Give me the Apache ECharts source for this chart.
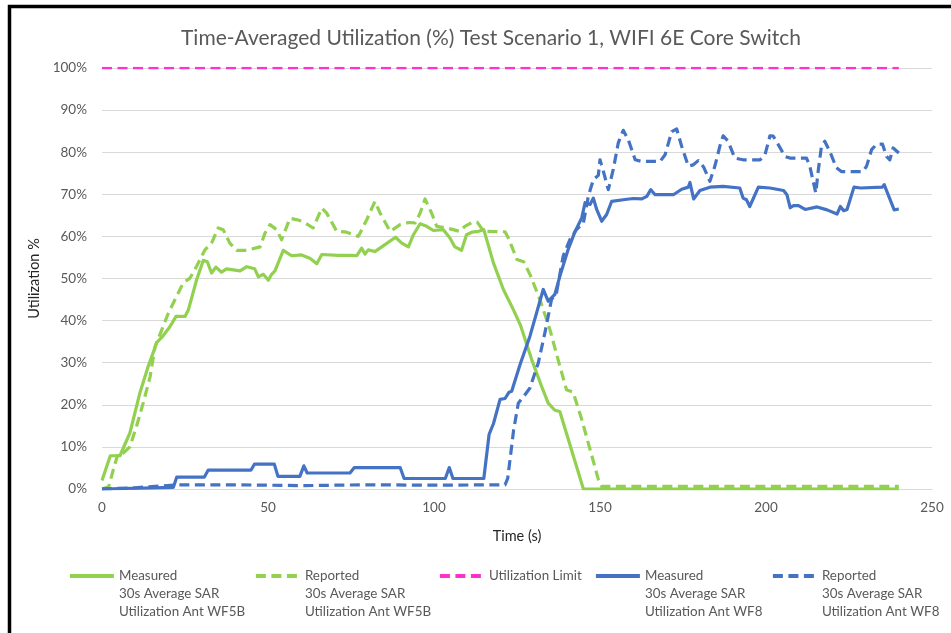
<!DOCTYPE html>
<html>
<head>
<meta charset="utf-8">
<script src="https://cdn.jsdelivr.net/npm/echarts@6/dist/echarts.min.js"></script>
<style>html,body{margin:0;padding:0;background:#fff}#c{width:951px;height:633px}</style>
</head>
<body>
<div id="c"></div>
<script>
// ---- Data (time in s, utilization in %) ----
const seriesNames = [
  "Measured\n30s Average SAR\nUtilization Ant WF5B",
  "Reported\n30s Average SAR\nUtilization Ant WF5B",
  "Utilization Limit",
  "Measured\n30s Average SAR\nUtilization Ant WF8",
  "Reported\n30s Average SAR\nUtilization Ant WF8"
];
const xTicks = [0, 50, 100, 150, 200, 250];
const yTicks = [0, 10, 20, 30, 40, 50, 60, 70, 80, 90, 100];

const wf5bMeasuredT = [0,2.5,5.4,8.4,11.4,13.9,16.5,18,20.5,22.3,25,26,28.5,30.5,31.7,33,34.3,36,37.5,41.6,43.6,46,47.1,48.6,50.1,51.1,52.1,54.6,57.1,60.1,62.6,64.7,66.2,71.2,75.2,76.7,78.2,79.2,80.2,82.2,84.8,88.4,90.3,92.3,93.8,95.8,97.8,99.8,102.8,104.8,106.3,108.3,109.8,111.4,113.4,115,117.9,120.9,123.9,126,129.4,132.4,134.4,136.4,137.9,145,240];
const wf5bMeasuredV = [2,7.9,7.9,13.3,22.8,29.1,34.8,36,38.6,41,41,42.5,49.7,54.3,54,51.3,52.7,51.5,52.3,51.8,52.8,52.3,50.4,51,49.6,51,51.8,56.7,55.4,55.6,54.8,53.5,55.7,55.5,55.5,55.4,57.2,55.8,56.8,56.4,57.8,59.8,58.4,57.5,60.4,63,62.4,61.4,61.6,59.6,57.5,56.7,60.4,61,61.2,61.6,53.7,47.4,42.6,39,30.8,24.4,20.4,18.7,18.4,0,0];

const wf5bReportedT = [0,2,3.9,4.9,6.4,8.4,10.4,12.4,14.5,16,18,20,22,24.5,26.5,28.5,31,33,35,36.5,38.5,40.6,43.6,47.6,49.1,50.6,52.6,54.1,56.6,58.5,60.6,63.6,66.2,67.7,70.7,73.7,77.2,79.7,82.2,83.8,86.8,89.8,92.3,94.3,95.8,97.3,99.3,100.8,103.8,107.8,109.3,111.4,113,115,121.4,122.4,125,127,129,131.9,134.9,137.9,139.9,141.9,144.5,147,149.5,150.5,240];
const wf5bReportedV = [0,0.5,6,8.5,8.5,10,14.9,20.4,26.7,33.9,37.8,41.8,45,49,50.1,52.9,56.8,58.4,62,61.6,58.4,56.7,56.7,57.5,60.8,62.8,61.6,59.2,64.3,64,63.5,62,66.7,65.5,61.2,61,60,63.9,68.3,65.5,61.2,62.8,63.3,63.2,65.5,68.9,65.5,62.4,62,61.2,62.4,63.3,63.4,61.2,61.1,59.6,54.5,54,50.8,45,37.9,29.2,23.6,23,16.5,9.4,2.3,0.6,0.6];

const limitT = [0, 240];
const limitV = [100, 100];

const wf8MeasuredT = [0,21.5,22.5,30.8,32,44.9,45.9,51.9,53,59.6,60.8,61.8,74.7,76,89.8,91,103.4,104.6,105.7,115,116.6,117.9,119.9,121.4,122.6,123.4,125.9,128.9,132.9,134.4,136.4,137.9,140.4,142.5,144.5,145.5,147,148,149,150.5,152,153.5,157,160,162.6,164.1,165.3,166.6,172.1,174.6,176.6,177.1,178.2,180.1,183.1,187.1,192.1,193.1,194.1,195.1,197.7,201.2,205.3,206.3,207.3,208.3,209.8,211.8,215.4,218.4,221.4,222.4,223.4,224.4,226.5,228.5,235,235.6,238.6,240];
const wf8MeasuredV = [0,0.4,2.8,2.8,4.5,4.5,5.9,5.9,3,3,5.5,3.8,3.8,5.1,5.1,2.5,2.5,5.1,2.5,2.5,13,15.5,21.3,21.5,23,23.2,29.5,36.3,47.4,44.6,46.2,50.5,56.9,61.2,64.4,68,67.6,69.1,66.4,63.6,65.2,68.3,68.7,69,68.9,69.5,71.1,69.9,69.9,71.2,71.7,72.8,68.9,70.9,71.7,71.9,71.5,69.1,68.7,67.1,71.7,71.5,70.9,69.9,66.8,67.3,67.3,66.4,67,66.3,65.3,67.1,66.1,66.4,71.7,71.5,71.7,72.3,66.3,66.5];

const wf8ReportedT = [0,10,22.8,40,60,80,100,121.4,122.2,124,125.4,127.4,128.9,131.4,133.4,135.4,136.9,138.9,140.9,142.9,145,146.5,148,149.5,150,151,152.5,154,155.5,157,158.5,160.6,162.6,168.1,169.6,171.6,173.1,174.6,176.6,178.1,179.6,181.2,183.1,184.6,186.1,187.1,188.6,190.6,193.1,198.2,199.7,201.2,202.2,203.7,205.7,207.2,212.2,213.2,214.2,215,215.7,216.7,217.7,219.2,221.2,222.7,229.2,230.3,231.8,233.3,235.1,236.3,237.3,238.3,240];
const wf8ReportedV = [0,0.3,1,1,0.8,1,0.9,1,2.5,14.1,20.4,22.4,24,29.9,37.1,45,46.6,55.3,59.2,61.6,63.2,69.6,73.5,74.5,78.2,75.5,71.1,75.9,82.2,85.2,83,78.2,77.8,77.8,79.4,84.9,85.5,81.4,76.7,77,78,76.5,73.1,76.7,81.4,83.9,82.6,78.6,78.2,78.2,79.4,83.9,83.8,81.8,79,78.6,78.6,76.7,73.1,70.3,75.4,81.4,82.6,80.2,76.3,75.4,75.4,76.7,80.6,81.9,81.9,79,78.2,81,79.8];

// ---- Build ----
const pairs = (t, v) => t.map((x, i) => [x, v[i]]);
const GREEN = '#92D050', BLUE = '#4472C4', PINK = '#FF33CC';
const FONT = 'Lato';

function lineSeries(name, t, v, color, dashed, width) {
  return {
    name: name, type: 'line', data: pairs(t, v), symbol: 'none', showSymbol: false,
    lineStyle: { color: color, width: width || 3.2, type: dashed ? [10, 5.5] : 'solid', cap: 'butt', join: 'round' },
    itemStyle: { color: color },
    emphasis: { disabled: true }, animation: false
  };
}

const legendX = [63, 249, 433, 589, 766];
const legends = seriesNames.map((n, i) => ({
  data: [n],
  left: legendX[i],
  top: n.indexOf('\n') >= 0 ? 526 : 562,
  orient: 'horizontal',
  itemWidth: 44, itemHeight: 14,
  selectedMode: false,
  itemStyle: { opacity: 0 },
  lineStyle: { width: 3.8 },
  formatter: nm => (nm.indexOf('\n') >= 0 ? '\n\n' + nm : nm),
  textStyle: { fontFamily: FONT, fontSize: 13.4, color: '#595959', lineHeight: 18 }
}));

const chart = echarts.init(document.getElementById('c'), null, { renderer: 'canvas' });
chart.setOption({
  animation: false,
  backgroundColor: '#fff',
  title: {
    text: 'Time-Averaged Utilization (%) Test Scenario 1, WIFI 6E Core Switch',
    left: 486, textAlign: 'center', top: 23,
    textStyle: { fontFamily: FONT, fontSize: 21, fontWeight: 'normal', color: '#595959' }
  },
  legend: legends,
  grid: { left: 102, right: 19, top: 68, bottom: 144, containLabel: false },
  xAxis: {
    type: 'value', min: xTicks[0], max: xTicks[xTicks.length - 1], interval: 50,
    name: 'Time (s)', nameLocation: 'middle', nameGap: 40,
    nameTextStyle: { fontFamily: FONT, fontSize: 14.5, color: '#262626' },
    axisLine: { show: true, lineStyle: { color: '#d9d9d9', width: 1 } },
    axisTick: { show: false },
    axisLabel: { fontFamily: FONT, fontSize: 13.5, color: '#595959', margin: 12 },
    splitLine: { show: false }
  },
  yAxis: {
    type: 'value', min: yTicks[0], max: yTicks[yTicks.length - 1], interval: 10,
    name: 'Utilization %', nameLocation: 'middle', nameGap: 53, nameRotate: 90,
    nameTextStyle: { fontFamily: FONT, fontSize: 14.5, color: '#262626' },
    axisLine: { show: false }, axisTick: { show: false },
    axisLabel: { fontFamily: FONT, fontSize: 13.5, color: '#595959', margin: 15, formatter: '{value}%' },
    splitLine: { show: true, lineStyle: { color: '#d9d9d9', width: 1 } }
  },
  series: [
    lineSeries(seriesNames[0], wf5bMeasuredT, wf5bMeasuredV, GREEN, false),
    lineSeries(seriesNames[1], wf5bReportedT, wf5bReportedV, GREEN, true),
    lineSeries(seriesNames[2], limitT, limitV, PINK, true, 2.6),
    lineSeries(seriesNames[3], wf8MeasuredT, wf8MeasuredV, BLUE, false),
    lineSeries(seriesNames[4], wf8ReportedT, wf8ReportedV, BLUE, true)
  ],
  graphic: [{
    type: 'rect', silent: true, z: 100,
    shape: { x: 9.5, y: 6.5, width: 1200, height: 1000 },
    style: { fill: null, stroke: '#000', lineWidth: 3.5 }
  }]
});
</script>
</body>
</html>
